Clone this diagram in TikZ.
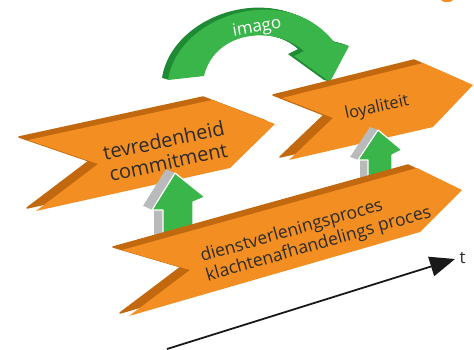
\documentclass[tikz,border=0pt]{standalone}
\usepackage{fontspec}
\setmainfont{Open Sans}
\usetikzlibrary{arrows.meta}
\definecolor{tdFace}{HTML}{F28E22}
\definecolor{tdSide}{HTML}{C2680F}
\definecolor{tdGreen}{HTML}{3AB54A}
\definecolor{tdGreenDk}{HTML}{1E8A34}
\definecolor{tdGrey}{HTML}{B9BABC}
\definecolor{tdText}{HTML}{2B2B2B}
\tikzset{
  slabside/.style={fill=tdSide, draw=tdSide, line width=1.5pt, line join=round},
  slabface/.style={fill=tdFace},
  upface/.style={fill=tdGreen, draw=white, line width=1.2pt, line join=round},
  upside/.style={fill=tdGrey},
  arcface/.style={fill=tdGreen},
  arcside/.style={fill=tdGreenDk},
  slabtext/.style={font=\fontsize{16.5}{20}\selectfont, text=tdText, inner sep=0pt},
  timeline/.style={-{Triangle[length=25pt, width=20pt]}, line width=1.8pt, black!90}
}
% outlines (pixel coordinates, y down)
\def\slabA{(28,140) -- (212,100) -- (275,124) -- (230,168) -- (36,211) -- (98,164) -- cycle}
\def\slabB{(282,98) -- (423,63) -- (473,85) -- (433,127) -- (289,160) -- (333,118) -- cycle}
\def\slabC{(122,250) -- (417,168) -- (462,190) -- (420,232) -- (129,316) -- (190,270) -- cycle}
\def\upA{(175,173) -- (205,197) -- (193,202) -- (193,236) -- (163,242) -- (163,210) -- (152,210) -- cycle}
\def\upB{(378,130) -- (402,150) -- (392,155) -- (392,182) -- (368,186) -- (368,160) -- (358,160) -- cycle}
\def\imagoarc{(168,80) .. controls (178,15) and (285,-20) .. (334,42) -- (349,46) -- (330,82) -- (294,56) -- (304,51) .. controls (275,25) and (215,30) .. (204,76) -- cycle}

\begin{document}
\begin{tikzpicture}[x=1pt, y=-1pt]
  \useasboundingbox (0,0) rectangle (474,349);
  \fill[tdFace] (447,0) ellipse (6 and 2);

  % imago arc
  \foreach \s in {0.2,0.4,...,1.0}
    \fill[arcside, shift={(-6*\s,-2*\s)}] \imagoarc;
  \fill[arcface] \imagoarc;
  \node[font=\fontsize{17}{17}\selectfont, text=white, rotate=10] (imago) at (257,28) {imago};

  % back slabs
  \fill[slabside, shift={(-9,-3)}] \slabA;
  \fill[slabface] \slabA;
  \node[slabtext, font=\fontsize{20}{22}\selectfont, align=center, rotate=12] (tevr) at (166,151) {tevredenheid\\commitment};

  \fill[slabside, shift={(-9,-3)}] \slabB;
  \fill[slabface] \slabB;
  \node[slabtext, rotate=12] (loyal) at (377,108) {loyaliteit};

  % up arrows
  \foreach \s in {0.1,0.2,...,1.0} {
    \fill[upside, shift={(-9*\s,-4*\s)}] \upA;
    \fill[upside, shift={(-8*\s,-3*\s)}] \upB;
  }
  \filldraw[upface] \upA;
  \filldraw[upface] \upB;

  % front slab
  \fill[slabside, shift={(-9,-3)}] \slabC;
  \fill[slabface] \slabC;
  \node[slabtext, font=\fontsize{17.5}{20}\selectfont, align=left, rotate=16] (proces) at (316,235)
    {dienstverleningsproces\\klachtenafhandelings proces};

  % time axis
  \coordinate (tstart) at (167,349);
  \coordinate (tend) at (455,259);
  \draw[timeline] (tstart) -- (tend);
  \node[font=\fontsize{17}{17}\selectfont, text=tdText, anchor=west] (tlabel) at (456,258) {t};
\end{tikzpicture}
\end{document}
